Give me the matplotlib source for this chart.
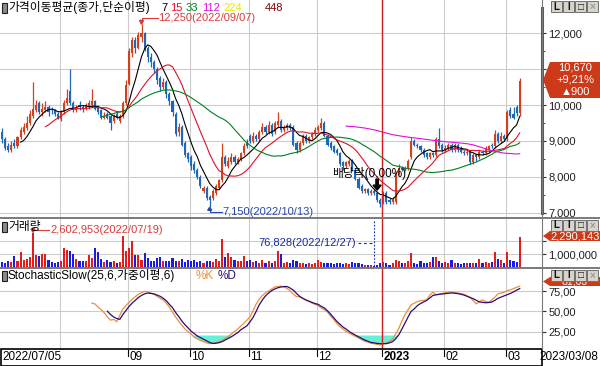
import numpy as np
import pandas as pd
import matplotlib
matplotlib.use("Agg")
import matplotlib.pyplot as plt
from matplotlib.patches import Rectangle, Polygon
from matplotlib.lines import Line2D

plt.rcParams['font.family'] = ['Liberation Sans', 'Noto Sans CJK KR', 'DejaVu Sans']

# KRX trading days 2022/07/05 - 2023/03/08
holidays = ['2022-08-15', '2022-09-09', '2022-09-12', '2022-10-03', '2022-10-10',
            '2022-12-30', '2023-01-23', '2023-01-24', '2023-03-01']
dates = pd.bdate_range('2022-07-05', '2023-03-08')
dates = dates[~dates.isin(pd.to_datetime(holidays))]

opens = [9250, 9050, 8850, 8750, 8950, 8850, 9100, 9250, 9350, 9500, 9700, 9850, 10050, 9800, 9850, 9950, 9900, 9850, 9750,
         9600, 9800, 10050, 10400, 10050, 9850, 10000, 9950, 9900, 9950, 10000, 10100, 9950, 9850, 9650, 9750, 9700, 9550, 9750, 9550, 9700, 10050,
         10600, 11450, 11800, 11600, 11900, 12000, 11600, 11350, 11200, 11000, 10750, 10500, 10650, 10300, 10100, 9750, 9250, 9400, 8950, 8650,
         8550, 8350, 8200, 8000, 7600, 7700, 7450, 7400, 7550, 7700, 7900, 8550, 8300, 8400, 8550, 8400, 8500, 8650, 8950,
         9150, 9000, 9150, 9050, 9250, 9400, 9250, 9450, 9250, 9450, 9550, 9300, 9350, 9450, 9400, 8950, 8750, 8950, 9150, 9000, 9100, 9200,
         9300, 9350, 9500, 9150, 8950, 8850, 8750, 8650, 8400, 8300, 8350, 8450, 8200, 7950, 7750, 7600, 7650, 7550, 7600, 7550, 7350,
         7300, 7550, 7350, 7300, 7300, 8100, 8250, 8200, 8250, 8550, 9000, 8900, 8850, 8750, 8650, 8550, 8650, 8600, 9050, 8900,
         8750, 8800, 8900, 8750, 8900, 8800, 8700, 8650, 8700, 8400, 8600, 8550, 8700, 8650, 8750, 8900, 8850, 9200, 9000, 9150,
         9050, 9850, 9750, 9950, 9780]
highs = [9350, 9100, 8950, 9000, 9050, 9150, 9400, 9500, 9700, 9850, 10650, 10150, 10100, 10050, 10100, 10000, 9950, 9900, 9800,
         9850, 10150, 10450, 11000, 10100, 10000, 10100, 10000, 10050, 10150, 10450, 10150, 10000, 9900, 9800, 9800, 9750, 9750, 9800, 9750, 10100, 10700,
         11600, 11900, 11900, 12050, 12250, 12050, 11650, 11450, 11250, 11050, 10800, 10750, 10700, 10350, 10150, 9800, 9500, 9450, 9000, 8700,
         8600, 8450, 8250, 8050, 7750, 7750, 7500, 7650, 7800, 7950, 8950, 8600, 8550, 8650, 8600, 8550, 8700, 8950, 9050,
         9200, 9250, 9200, 9300, 9500, 9450, 9550, 9500, 9550, 9800, 9600, 9450, 9500, 9500, 9450, 9000, 9000, 9200, 9200, 9150, 9250, 9400,
         9450, 9650, 9550, 9200, 9000, 8900, 8800, 8700, 8450, 8450, 8500, 8500, 8250, 8000, 7800, 7700, 7700, 7650, 7650, 7600, 7400,
         7600, 7600, 7400, 7450, 8150, 8350, 8300, 8300, 8500, 9100, 9050, 8950, 8900, 8800, 8700, 8700, 8700, 9100, 9350, 8950,
         8900, 8950, 8950, 8950, 8950, 8850, 8750, 8750, 8750, 8650, 8650, 8750, 8750, 8850, 8900, 8950, 9300, 9250, 9250, 9200,
         9850, 9950, 9950, 10000, 10760]
lows = [8950, 8750, 8680, 8700, 8800, 8800, 9050, 9200, 9300, 9450, 9650, 9800, 9750, 9700, 9800, 9700, 9750, 9700, 9600,
        9550, 9750, 10000, 10000, 9800, 9800, 9850, 9800, 9850, 9900, 9950, 9850, 9750, 9600, 9600, 9600, 9300, 9500, 9600, 9500, 9650, 10000,
        10550, 11350, 11450, 11550, 11750, 11500, 11200, 11050, 10900, 10600, 10400, 10450, 10200, 10000, 9700, 9150, 9150, 8850, 8550, 8400,
        8200, 8100, 7950, 7700, 7550, 7350, 7150, 7350, 7500, 7650, 7850, 8300, 8250, 8350, 8350, 8350, 8450, 8600, 8800,
        8950, 8950, 9000, 9000, 9200, 9200, 9200, 9150, 9200, 9400, 9250, 9250, 9300, 9300, 8850, 8650, 8700, 8900, 8950, 8950, 9050, 9150,
        9250, 9300, 9100, 8850, 8750, 8650, 8600, 8300, 8200, 8250, 8300, 8150, 7900, 7650, 7550, 7550, 7500, 7500, 7500, 7300, 7150,
        7250, 7250, 7250, 7250, 7250, 8050, 8150, 8150, 8200, 8500, 8850, 8800, 8700, 8550, 8500, 8500, 8550, 8550, 8800, 8700,
        8700, 8750, 8700, 8700, 8700, 8650, 8600, 8600, 8350, 8350, 8450, 8500, 8600, 8600, 8700, 8800, 8800, 8950, 8950, 9000,
        9000, 9650, 9600, 9700, 9700]
closes = [9050, 8800, 8750, 8900, 8850, 9100, 9300, 9400, 9500, 9750, 9900, 10000, 9800, 9900, 9950, 9800, 9850, 9750, 9650,
          9800, 10050, 10200, 10050, 9850, 9900, 9950, 9900, 10000, 10050, 10100, 9900, 9800, 9650, 9700, 9650, 9500, 9700, 9650, 9700, 10050, 10550,
          11500, 11800, 11600, 11950, 12000, 11550, 11350, 11200, 11000, 10700, 10500, 10650, 10300, 10100, 9800, 9200, 9400, 8900, 8600, 8500,
          8300, 8200, 8000, 7750, 7700, 7400, 7350, 7600, 7750, 7900, 8550, 8350, 8450, 8550, 8400, 8500, 8650, 8850, 8850,
          9000, 9150, 9050, 9250, 9400, 9250, 9450, 9200, 9500, 9550, 9300, 9350, 9450, 9350, 8900, 8750, 8950, 9150, 9000, 9100, 9200, 9300,
          9400, 9500, 9150, 8900, 8800, 8700, 8650, 8350, 8300, 8400, 8450, 8200, 7950, 7700, 7600, 7650, 7550, 7600, 7550, 7350, 7250,
          7550, 7300, 7300, 7350, 8100, 8250, 8200, 8250, 8450, 9000, 8900, 8850, 8750, 8600, 8550, 8650, 8600, 9050, 8850, 8750,
          8800, 8900, 8750, 8900, 8750, 8700, 8650, 8700, 8400, 8600, 8550, 8700, 8650, 8800, 8850, 8850, 9200, 9000, 9150, 9050,
          9800, 9700, 9650, 9770, 10670]
# volume in thousand shares
volumes = [400, 350, 450, 400, 850, 450, 1150, 550, 600, 800, 2602.953, 930, 850, 1000, 1000, 550, 400, 350, 400,
           500, 1500, 1300, 1250, 1000, 600, 500, 450, 500, 930, 680, 1430, 1180, 600, 430, 550, 430, 500, 300, 400, 2350, 1250,
           1430, 2000, 930, 930, 550, 1100, 680, 500, 500, 680, 800, 500, 450, 500, 680, 500, 450, 600, 400, 550,
           500, 550, 400, 500, 350, 450, 500, 400, 600, 500, 2170, 800, 1100, 800, 550, 500, 450, 850, 500,
           550, 400, 450, 350, 550, 300, 500, 350, 450, 1250, 1050, 300, 400, 300, 550, 450, 350, 300, 250, 300, 250, 300,
           550, 400, 300, 350, 300, 250, 300, 300, 250, 300, 250, 400, 350, 300, 250, 200, 200, 150, 76.828, 200, 300,
           400, 300, 200, 300, 550, 450, 350, 300, 450, 1100, 350, 250, 450, 350, 300, 400, 800, 800, 450, 350,
           400, 300, 550, 300, 300, 250, 300, 350, 300, 300, 350, 600, 350, 400, 300, 400, 1180, 600, 550, 300,
           1180, 550, 450, 400, 2290.143]

# StochasticSlow(25,6,WMA,6) values (from the first day each line exists)
stoch_k = [60, 59, 55, 52, 48, 43, 39, 40, 37, 45, 53, 57, 61, 65, 68, 71, 73, 74.5, 74, 72.5, 71,
           68.5, 66, 64, 60, 55, 49, 43, 37.5, 33, 28, 25, 22, 18, 16, 14, 12.5, 11, 10, 10.5, 11.3,
           12.5, 14, 16.5, 19, 22, 25, 28, 31.5, 35, 39, 43, 51, 59, 65, 69.5, 72.5, 75, 77.5, 80, 80.5,
           81, 80, 78, 75, 71, 68, 68, 66, 64, 62, 60, 58.5, 57, 54, 52, 49, 44, 40, 35, 31, 28,
           25, 23, 21, 19, 17, 15, 13, 12, 10.5, 10, 9, 8.5, 9.5, 11, 13, 15.5, 22, 29, 38, 46, 52,
           58, 60, 62, 63, 63.5, 64, 70, 73.5, 70.5, 71, 72, 73, 73.8, 73.5, 73, 72.5, 72, 71, 69, 67,
           63, 59, 62, 64, 62, 61, 64, 67.5, 71.5, 72.5, 73.5, 75.5, 76.5, 78, 79.5, 81.03]
stoch_d = [50, 46, 43, 41, 40, 46, 51, 56, 60, 63.5, 67, 69.5, 71.5, 72.5, 72, 71.5, 70, 68.5, 66,
           63, 58.5, 54.5, 48.5, 43.5, 38, 33.5, 29.5, 25.5, 22.5, 19.5, 17.5, 15.5, 13.5, 11.5, 10.2,
           10.5, 11.2, 12.5, 14.5, 16.5, 18.5, 21, 23.5, 27, 29.5, 32, 37, 42.5, 50, 58, 64, 69, 72.5,
           75.5, 77.5, 79, 80, 80.5, 80.5, 78.5, 76, 72, 68.4, 66, 64, 62.5, 61, 59.5, 58.5, 56, 54,
           50.5, 46.5, 42, 37.5, 34, 30.5, 28, 25, 22.6, 20.5, 18.5, 16.5, 14.5, 13, 11.5, 11, 10.3,
           10, 10, 10, 11, 12.5, 16, 21, 28, 35.5, 43, 50, 53, 57, 59.5, 61.5, 63.4, 66.5, 69.5, 70.3,
           70.9, 71.3, 71.7, 72.2, 72.6, 72.3, 71.8, 71, 70, 68.5, 67, 65.5, 63.5, 61.5, 61, 60.5, 60.8,
           61.3, 63.5, 66, 67.5, 69, 70.5, 72, 74, 76, 78]

ma_periods = [7, 15, 33, 112, 224, 448]
ma_colors = ['#000000', '#e0102a', '#00801e', '#e010e0', '#e8e800', '#800000']
price_ticks = [7000, 8000, 9000, 10000, 11000, 12000]
stoch_ticks = [25, 50, 75]
last_info = ['10,670', '+9,21%', '\u25b2900']

assert len(dates) == len(opens) == len(highs) == len(lows) == len(closes) == len(volumes)

o = np.array(opens, float); h = np.array(highs, float)
l = np.array(lows, float); c = np.array(closes, float)
v = np.array(volumes, float)
n = len(c)
idx = np.arange(n)
up = c >= o

k_start = 25 + 6 - 2          # first day %K exists
d_start = k_start + 6 - 1     # first day %D exists
k_line = np.full(n, np.nan); k_line[k_start:] = stoch_k
d_line = np.full(n, np.nan); d_line[d_start:] = stoch_d

RED_C, BLUE_C = '#d2411e', '#1f68b8'
RED_V, BLUE_V = '#e41c1c', '#1c1ce0'
GRID = '#cccccc'

W, H = 600, 366
fig = plt.figure(figsize=(6, 3.66), dpi=100)
fig.patch.set_facecolor('white')


def rect(x0, y0, x1, y1):
    return [x0 / W, 1 - y1 / H, (x1 - x0) / W, (y1 - y0) / H]


def fx(x):
    return x / W


def fy(y):
    return 1 - y / H


def fline(xs, ys, **kw):
    fig.add_artist(Line2D([fx(x) for x in xs], [fy(y) for y in ys], transform=fig.transFigure, **kw))


def to_px(ax, x, y):
    dx, dy = ax.transData.transform((x, y))
    fw, fh = fig.transFigure.transform((1, 1))
    return dx / fw * W, H - dy / fh * H


ax1 = fig.add_axes(rect(0, 0, 542, 218))
ax2 = fig.add_axes(rect(0, 218, 542, 268))
ax3 = fig.add_axes(rect(0, 268, 542, 349))

xl = (-0.645, 174.19)
month_starts = [i for i in range(1, n) if dates[i].month != dates[i - 1].month]
year_start = [i for i in month_starts if dates[i].month == 1][0]

for ax in (ax1, ax2, ax3):
    ax.set_xlim(*xl)
    for s in ax.spines.values():
        s.set_visible(False)
    ax.set_xticks([])
    ax.yaxis.tick_right()
    ax.tick_params(axis='y', direction='out', length=3, width=0.8, color='#303030',
                   labelsize=8, pad=1.5, labelcolor='#202020')
    for m in month_starts:
        ax.axvline(m - 0.3, color=GRID, lw=0.8, zorder=0)
    ax.axvline(year_start - 0.4, color='#d42020', lw=1.0, zorder=5)

# ---- price panel
ax1.set_ylim(6852, 12928)
ax1.set_yticks(price_ticks)
ax1.set_yticks(np.arange(7500, 12500, 1000), minor=True)
ax1.tick_params(axis='y', which='minor', length=2, color='#303030')
# the 11,000 label sits under the last-price box
ax1.set_yticklabels(['' if t == 11000 else f'{t:,}' for t in price_ticks])
for t in price_ticks:
    ax1.axhline(t, color=GRID, lw=0.8, zorder=0)

cols = np.where(up, RED_C, BLUE_C)
ax1.vlines(idx, l, h, colors=cols, lw=0.9, zorder=3)
body = np.maximum(np.abs(c - o), 25)
ax1.bar(idx, body, bottom=np.minimum(o, c), width=0.7, color=cols, lw=0, zorder=3)

cs = pd.Series(c)
for p, col in zip(ma_periods, ma_colors):
    ma = cs.rolling(p).mean()
    ax1.plot(idx, ma, color=col, lw=0.8, zorder=4)

# price bar along axis: red above previous close, blue below
prev_close = c[-2]
ax1.plot([1.0007, 1.0007], [prev_close, 12700], color='#d42a10', lw=2.2,
         transform=ax1.get_yaxis_transform(), clip_on=False, zorder=6)
ax1.plot([1.0007, 1.0007], [6990, prev_close], color='#1f68b8', lw=2.2,
         transform=ax1.get_yaxis_transform(), clip_on=False, zorder=6)

# max / min annotations
imax = int(np.argmax(h)); imin = int(np.argmin(l))
mx, my = to_px(ax1, imax, h[imax])
fline([mx, mx, mx + 16], [my - 5, my - 6, my - 6], color='#d83c3c', lw=0.8)
fig.add_artist(Polygon([(fx(mx - 2), fy(my - 4)), (fx(mx + 2), fy(my - 4)), (fx(mx), fy(my))],
                       closed=True, color='#d83c3c', transform=fig.transFigure))
fig.text(fx(mx + 17), fy(my - 6), f'{int(h[imax]):,}({dates[imax]:%Y/%m/%d})', color='#d83c3c',
         fontsize=8, va='center', ha='left')
nx_, ny_ = to_px(ax1, imin, l[imin])
fline([nx_, nx_, nx_ + 12], [ny_ + 1, ny_ + 5, ny_ + 5], color='#2a48a8', lw=0.8)
fig.add_artist(Polygon([(fx(nx_ - 2), fy(ny_ + 3)), (fx(nx_ + 2), fy(ny_ + 3)), (fx(nx_), fy(ny_))],
                       closed=True, color='#2a48a8', transform=fig.transFigure))
fig.text(fx(nx_ + 13), fy(ny_ + 5), f'{int(l[imin]):,}({dates[imin]:%Y/%m/%d})', color='#2a48a8',
         fontsize=8, va='center', ha='left')

# ex-dividend mark
iex = int(np.where(dates == pd.Timestamp('2022-12-28'))[0][0])
ex, ey = to_px(ax1, iex, h[iex])
fig.add_artist(Polygon([(fx(ex - 1.2), fy(ey - 12)), (fx(ex + 1.2), fy(ey - 12)), (fx(ex + 1.2), fy(ey - 6)),
                        (fx(ex + 4), fy(ey - 6)), (fx(ex), fy(ey - 1)), (fx(ex - 4), fy(ey - 6)),
                        (fx(ex - 1.2), fy(ey - 6))], closed=True, color='black', transform=fig.transFigure))
fig.text(fx(ex - 45), fy(ey - 18), '배당락(0,00%)', fontsize=8.5, va='center', ha='left', color='black')

# ---- volume panel
ax2.set_ylim(-40, 3722)
ax2.set_yticks([1000, 2000])
ax2.set_yticklabels(['1,000,000', ''])
for t in (1000, 2000):
    ax2.axhline(t, color=GRID, lw=0.8, zorder=0)
vcols = np.where(up, RED_V, BLUE_V)
ax2.bar(idx, v + 40, bottom=-40, width=0.7, color=vcols, lw=0, zorder=3)

ivmax = int(np.argmax(v)); ivmin = int(np.argmin(v))
vx, vy = to_px(ax2, ivmax, v[ivmax])
fline([vx, vx + 16], [vy - 3, vy - 3], color='#d83c3c', lw=0.8)
fig.add_artist(Polygon([(fx(vx - 2), fy(vy - 4)), (fx(vx + 2), fy(vy - 4)), (fx(vx), fy(vy - 0.5))],
                       closed=True, color='#d83c3c', transform=fig.transFigure))
fig.text(fx(vx + 17), fy(vy - 3), f'{int(round(v[ivmax] * 1000)):,}({dates[ivmax]:%Y/%m/%d})',
         color='#d83c3c', fontsize=8, va='center', ha='left')
ux, uy = to_px(ax2, ivmin, v[ivmin])
fline([ux, ux], [221, 267], color='#1a2a9a', lw=0.8, ls=(0, (1.5, 1.5)))
fline([ux - 16, ux], [243, 243], color='#1a2a9a', lw=0.8, ls=(0, (2.5, 2.5)))
fig.text(fx(ux - 18), fy(243), f'{int(round(v[ivmin] * 1000)):,}({dates[ivmin]:%Y/%m/%d})',
         color='#1a2a9a', fontsize=8, va='center', ha='right')

# ---- stochastic slow panel
ax3.set_ylim(3.4, 103.4)
ax3.set_yticks(stoch_ticks)
ax3.set_yticklabels([f'{t},00' for t in stoch_ticks])
for t in stoch_ticks:
    ax3.axhline(t, color=GRID, lw=0.8, zorder=0)
lowline = np.fmin(k_line, d_line)
ax3.fill_between(idx, lowline, 20, where=lowline < 20, interpolate=True, color='#66f0d6', lw=0, zorder=2)
ax3.plot(idx, k_line, color='#f08c3c', lw=0.9, zorder=3)
ax3.plot(idx, d_line, color='#2c0c70', lw=0.9, zorder=4)

# ---- frame lines
fline([0, 600], [218, 218], color='#7a7a7a', lw=1.4)
fline([0, 600], [268, 268], color='#7a7a7a', lw=1.4)
fline([542, 542], [0, 349], color='#7a7a7a', lw=0.8)
fig.add_artist(Rectangle((fx(0.5), fy(365.5)), fx(541.5), 16.5 / H, fill=False, ec='black', lw=1.2,
                         transform=fig.transFigure))

# ---- x labels (first month label would collide with the start date)
fig.text(fx(2), fy(357.5), f'{dates[0]:%Y/%m/%d}', fontsize=8.5, va='center', ha='left')
for m in month_starts[1:]:
    px_, _ = to_px(ax3, m - 0.3, 50)
    fline([px_, px_], [350, 356], color='black', lw=0.8)
    if dates[m].month == 1:
        fig.text(fx(px_ + 1), fy(357.5), f'{dates[m]:%Y}', fontsize=8.5, va='center', ha='left',
                 fontweight='bold')
    else:
        fig.text(fx(px_ + 1), fy(357.5), f'{dates[m]:%m}', fontsize=8.5, va='center', ha='left')
fig.text(fx(598), fy(357.5), f'{dates[-1]:%Y/%m/%d}', fontsize=8.5, va='center', ha='right')

# ---- panel titles
for ty in (8, 227, 276):
    fig.add_artist(Rectangle((fx(2), fy(ty + 5)), 5 / W, 10 / H, fc='#8a8a8a', ec='#202020', lw=0.8,
                             transform=fig.transFigure))
fig.text(fx(8), fy(8), '가격이동평균(종가,단순이평)', fontsize=8.5, va='center', ha='left')
ma_x = [161, 170, 186, 202, 223, 265]
for p, col, x in zip(ma_periods, ma_colors, ma_x):
    fig.text(fx(x), fy(8), str(p), color=col, fontsize=8, va='center', ha='left')
fig.text(fx(8), fy(227), '거래량', fontsize=8.5, va='center', ha='left')
fig.text(fx(8), fy(276), 'StochasticSlow(25,6,가중이평,6)', fontsize=8.5, va='center', ha='left')
fig.text(fx(196), fy(276), '%K', color='#f08c3c', fontsize=8.5, va='center', ha='left')
fig.text(fx(218), fy(276), '%D', color='#2c0c70', fontsize=8.5, va='center', ha='left')


# ---- value boxes on the right
def value_box(y0, y1, lines, fs=8):
    ym = (y0 + y1) / 2
    fig.add_artist(Polygon([(fx(543), fy(ym)), (fx(550), fy(y0)), (fx(600), fy(y0)), (fx(600), fy(y1)),
                            (fx(550), fy(y1))], closed=True, fc='#cc3a1a', ec='none',
                           transform=fig.transFigure, zorder=5))
    step = (y1 - y0) / len(lines)
    for k, t in enumerate(lines):
        fig.text(fx(575), fy(y0 + step * (k + 0.5)), t, color='white', fontsize=fs, ha='center',
                 va='center', zorder=6)


value_box(62, 98, last_info)
value_box(231, 241, [f'{int(round(v[-1] * 1000)):,}'])
value_box(277, 286, [f'{stoch_k[-1]:.2f}'.replace('.', ',')], fs=7.5)


# ---- panel buttons
def buttons(y0):
    for k, t in enumerate(['L', 'I', '\u25a1', '\u00d7']):
        x0 = 551 + k * 12
        fig.add_artist(Rectangle((fx(x0), fy(y0 + 11)), 11 / W, 11 / H, fc='#d8d4cc', ec='#707070', lw=0.7,
                                 transform=fig.transFigure, zorder=7))
        fig.text(fx(x0 + 5.5), fy(y0 + 5.5), t, fontsize=7, ha='center', va='center', zorder=8,
                 color='#9a9a9a' if k == 3 else '#101010', fontweight='bold')


buttons(1)
buttons(220)
buttons(270)

fig.savefig('out.png', dpi=100)
